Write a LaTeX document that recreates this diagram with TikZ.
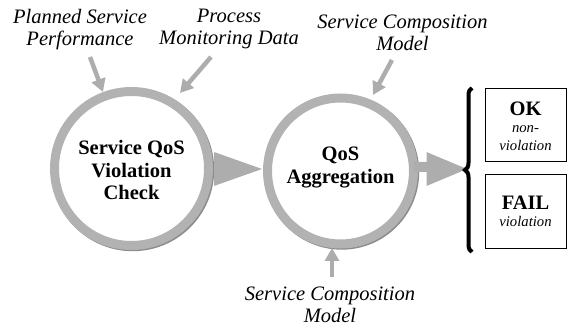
\documentclass[tikz,border=0pt]{standalone}
\usepackage{fontspec}
\setmainfont{Liberation Serif}
\usetikzlibrary{arrows.meta,decorations.pathreplacing}
\definecolor{ringgray}{RGB}{178,178,178}
\definecolor{arrgray}{RGB}{173,173,173}
\definecolor{shadegray}{RGB}{140,140,140}
\tikzset{
  ring/.style={draw=ringgray, line width=9pt, fill=white},
  feed/.style={draw=arrgray, line width=4.5pt, -{Triangle[width=14pt,length=13pt]}},
  lbl/.style={font=\fontsize{20.5}{22}\selectfont\itshape, align=center, inner sep=0pt},
  ctext/.style={font=\fontsize{20.5}{22.3}\selectfont\bfseries, align=center, inner sep=0pt},
  outbox/.style={draw=black, line width=0.9pt, minimum width=81pt, minimum height=73.5pt, inner sep=0pt},
  big/.style={font=\fontsize{20.5}{22}\selectfont\bfseries, inner sep=0pt, anchor=base},
  small/.style={font=\fontsize{14.7}{17}\selectfont\itshape, inner sep=0pt, anchor=base},
}
\begin{document}
\begin{tikzpicture}[x=1pt,y=1pt]
\useasboundingbox (0,0) rectangle (567,331);
% shadows of the rings
\fill[shadegray] (132.7,161.3) circle (81.5);
\fill[shadegray] (341.7,158.8) circle (77.5);
% circles
\node[ring, circle, minimum size=154pt, inner sep=0pt] (c1) at (131.5,162.5) {};
\node[ring, circle, minimum size=146pt, inner sep=0pt] (c2) at (340.5,160) {};
\node[ctext] (t1) at (131.5,160.9) {Service QoS\\Violation\\Check};
\node[ctext] (t2) at (340.5,163.4) {QoS\\Aggregation};
% flow arrows
\coordinate (a1b) at (214,162.5);
\coordinate (a1t) at (262,162);
\fill[arrgray] (214,179) -- (a1t) -- (214,145) -- cycle;
\coordinate (a2s) at (414,164);
\coordinate (a2t) at (467,162);
\fill[arrgray] (414,169) -- (426.5,169) -- (426.5,179) -- (a2t) -- (426.5,145) -- (426.5,159) -- (414,159) -- cycle;
% brace
\coordinate (bb) at (472,79);
\coordinate (bt) at (472,243);
\draw[line width=4pt, decorate, decoration={brace, amplitude=7pt}] (bb) -- (bt);
% boxes
\node[outbox] (ok) at (525.5,206) {};
\node[big] (okt) at (525.5,215) {OK};
\node[small] (okn) at (525.5,198) {non-};
\node[small] (okv) at (525.5,180.3) {violation};
\node[outbox] (fail) at (525.5,119.5) {};
\node[big] (ft) at (525.5,121) {FAIL};
\node[small] (fv) at (525.5,104.3) {violation};
% labels
\node[lbl] (psp) at (80,301.75) {Planned Service\\Performance};
\node[lbl] (pmd) at (229,301.75) {Process\\Monitoring Data};
\node[lbl] (scm1) at (402.5,298.2) {Service Composition\\Model};
\node[lbl] (scm2) at (330,26) {Service Composition\\Model};
% input arrows
\coordinate (p1s) at (90,274); \coordinate (p1e) at (103,239);
\coordinate (p2s) at (211,274); \coordinate (p2e) at (180,238);
\coordinate (p3s) at (392,271); \coordinate (p3e) at (373,236);
\coordinate (p4s) at (332,54); \coordinate (p4e) at (332,83);
\draw[feed] (p1s) -- (p1e);
\draw[feed] (p2s) -- (p2e);
\draw[feed] (p3s) -- (p3e);
\draw[feed] (p4s) -- (p4e);
\end{tikzpicture}
\end{document}
